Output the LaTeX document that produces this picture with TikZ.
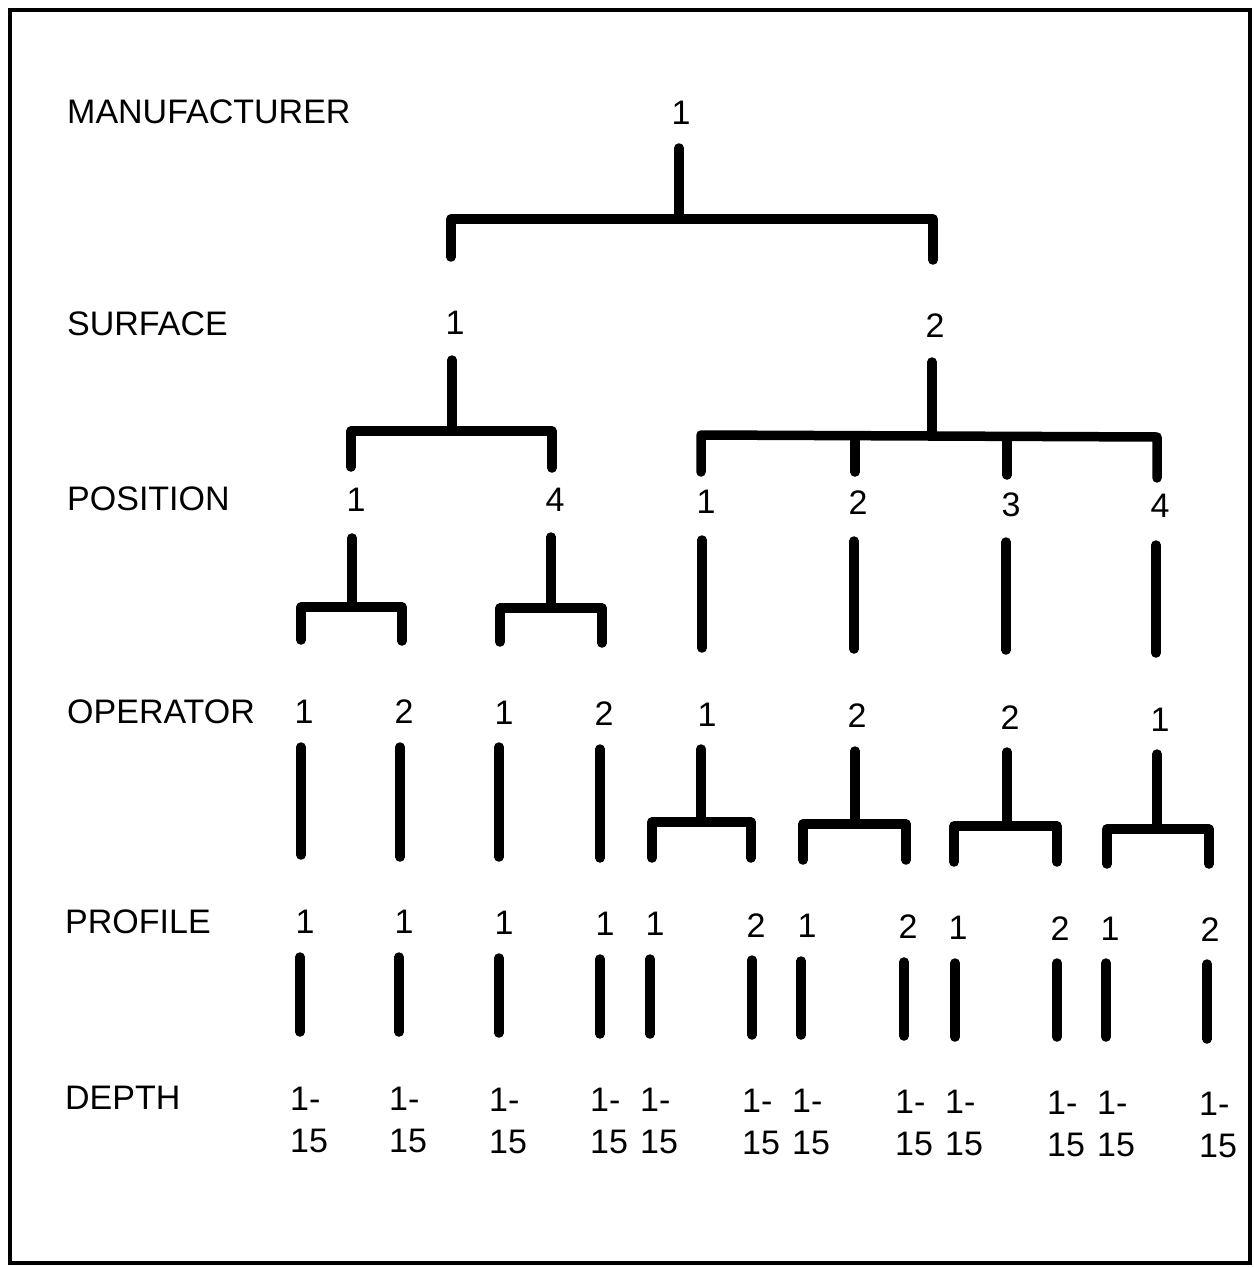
\documentclass[tikz,border=0pt]{standalone}
\usepackage{fontspec}
\setmainfont{Liberation Sans}
\begin{document}
\begin{tikzpicture}[x=1pt,y=-1pt,
  lbl/.style={anchor=west,inner sep=0pt,font=\fontsize{34}{40}\selectfont},
  num/.style={inner sep=0pt,font=\fontsize{34}{40}\selectfont},
  dep/.style={inner sep=0pt,align=left,anchor=north west,font=\fontsize{34}{42}\selectfont},
  bar/.style={line width=9.5pt,line cap=round,line join=round},
  frame/.style={line width=3.5pt}]
\useasboundingbox (0,0) rectangle (1253,1268);
\draw[frame] (10,10) rectangle (1250,1263);
% row labels
\node[lbl] (lman) at (67,112) {MANUFACTURER};
\node[lbl] (lsur) at (67,324) {SURFACE};
\node[lbl] (lpos) at (67,499) {POSITION};
\node[lbl] (lop)  at (67,712) {OPERATOR};
\node[lbl] (lpro) at (65,922) {PROFILE};
\node[lbl] (ldep) at (65,1098) {DEPTH};
% manufacturer
\node[num] (m1) at (681,113) {1};
% surface
\node[num] (s1) at (455,323) {1};
\node[num] (s2) at (935,326) {2};
% position
\node[num] (p1) at (356,500) {1};
\node[num] (p2) at (555,500) {4};
\node[num] (p3) at (706,502) {1};
\node[num] (p4) at (858,503) {2};
\node[num] (p5) at (1011,505) {3};
\node[num] (p6) at (1160,506) {4};
% operator
\node[num] (o1) at (304,712) {1};
\node[num] (o2) at (404,712) {2};
\node[num] (o3) at (504,713) {1};
\node[num] (o4) at (604,714) {2};
\node[num] (o5) at (707,715) {1};
\node[num] (o6) at (857,716) {2};
\node[num] (o7) at (1010,718) {2};
\node[num] (o8) at (1160,720) {1};
% profile
\node[num] (r1)  at (305,922) {1};
\node[num] (r2)  at (404,922) {1};
\node[num] (r3)  at (504,923) {1};
\node[num] (r4)  at (605,924) {1};
\node[num] (r5)  at (655,924) {1};
\node[num] (r6)  at (756,926) {2};
\node[num] (r7)  at (807,926) {1};
\node[num] (r8)  at (908,927) {2};
\node[num] (r9)  at (958,928) {1};
\node[num] (r10) at (1060,929) {2};
\node[num] (r11) at (1110,929) {1};
\node[num] (r12) at (1210,930) {2};
% depth
\node[dep] (d1)  at (290,1087) {1-\\15};
\node[dep] (d2)  at (389,1087) {1-\\15};
\node[dep] (d3)  at (489,1088) {1-\\15};
\node[dep] (d4)  at (590,1088) {1-\\15};
\node[dep] (d5)  at (640,1088) {1-\\15};
\node[dep] (d6)  at (742,1089) {1-\\15};
\node[dep] (d7)  at (792,1089) {1-\\15};
\node[dep] (d8)  at (895,1090) {1-\\15};
\node[dep] (d9)  at (945,1090) {1-\\15};
\node[dep] (d10) at (1047,1091) {1-\\15};
\node[dep] (d11) at (1097,1091) {1-\\15};
\node[dep] (d12) at (1199,1092) {1-\\15};
% manufacturer -> surface
\draw[bar] (679,148) -- (679,218);
\draw[bar] (451,257) -- (451,219) -- (933,219) -- (933,260);
% surface 1 -> positions
\draw[bar] (452,360) -- (452,430);
\draw[bar] (351,467) -- (351,431) -- (552,431) -- (552,468);
% surface 2 -> positions
\draw[bar] (932,362) -- (932,434);
\draw[bar] (701,472) -- (701,435) -- (1157,437) -- (1157,478);
\draw[bar] (855,437) -- (855,472);
\draw[bar] (1007,437) -- (1007,475);
% position -> operator
\draw[bar] (352,538) -- (352,605);
\draw[bar] (301,640) -- (301,607) -- (402,607) -- (402,641);
\draw[bar] (551,537) -- (551,605);
\draw[bar] (500,642) -- (500,608) -- (602,608) -- (602,643);
\draw[bar] (702,540) -- (702,648);
\draw[bar] (854,541) -- (854,649);
\draw[bar] (1006,542) -- (1006,650);
\draw[bar] (1156,545) -- (1156,653);
% operator -> profile (left)
\draw[bar] (301,747) -- (301,855);
\draw[bar] (400,747) -- (400,857);
\draw[bar] (499,747) -- (499,857);
\draw[bar] (600,749) -- (600,858);
% operator -> profile (right)
\draw[bar] (701,749) -- (701,820);
\draw[bar] (652,858) -- (652,822) -- (751,822) -- (751,858);
\draw[bar] (855,751) -- (855,822);
\draw[bar] (803,860) -- (803,824) -- (906,824) -- (906,860);
\draw[bar] (1007,752) -- (1007,824);
\draw[bar] (954,862) -- (954,826) -- (1057,826) -- (1057,862);
\draw[bar] (1157,754) -- (1157,827);
\draw[bar] (1107,864) -- (1107,829) -- (1209,829) -- (1209,864);
% profile -> depth
\draw[bar] (300,957) -- (300,1032);
\draw[bar] (399,957) -- (399,1032);
\draw[bar] (499,958) -- (499,1033);
\draw[bar] (600,959) -- (600,1034);
\draw[bar] (650,959) -- (650,1034);
\draw[bar] (752,960) -- (752,1035);
\draw[bar] (801,961) -- (801,1035);
\draw[bar] (904,962) -- (904,1036);
\draw[bar] (955,963) -- (955,1037);
\draw[bar] (1057,963) -- (1057,1037);
\draw[bar] (1106,963) -- (1106,1037);
\draw[bar] (1207,964) -- (1207,1039);
\end{tikzpicture}
\end{document}
